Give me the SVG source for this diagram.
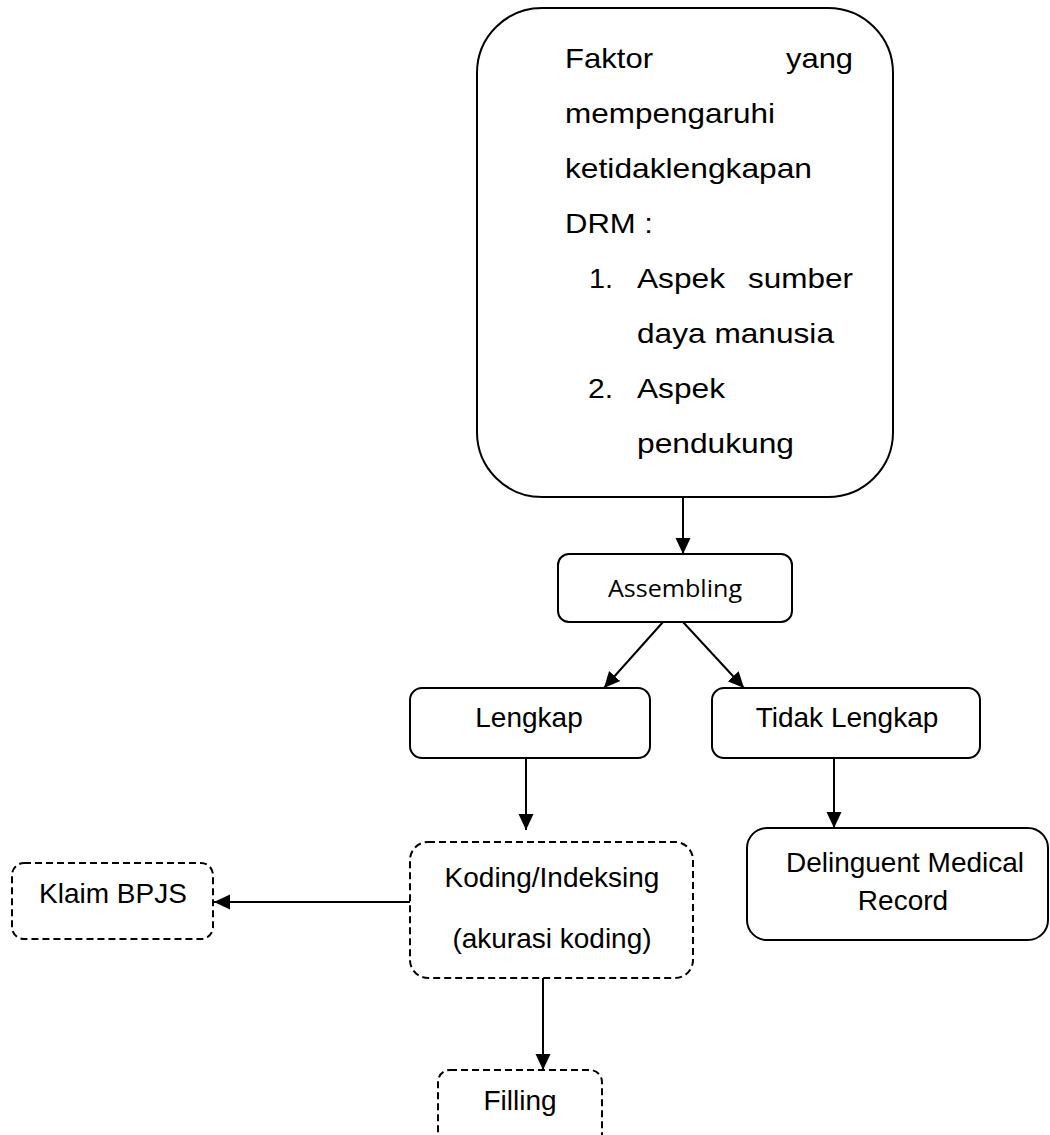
<svg xmlns="http://www.w3.org/2000/svg" width="1050" height="1135" viewBox="0 0 1050 1135">
<style>
.box{fill:#fff;stroke:#000;stroke-width:2}
.dash{fill:#fff;stroke:#000;stroke-width:2;stroke-dasharray:7 4}
.t{font-family:"Liberation Sans",Arial,sans-serif;font-size:28px;fill:#000}
.c{text-anchor:middle}
.e{text-anchor:end}
.cal{font-family:"Open Sans","Liberation Sans",sans-serif;font-size:24px;fill:#000;text-anchor:middle}
.conn{stroke:#000;stroke-width:2;fill:none;marker-end:url(#arr)}
</style>
<defs>
<marker id="arr" markerUnits="userSpaceOnUse" markerWidth="16" markerHeight="16" viewBox="0 0 16 16" refX="16" refY="8" orient="auto">
<path d="M0,0.5 L16,8 L0,15.5 Z" fill="#000"/>
</marker>
</defs>
<g id="connectors">
<line class="conn" x1="683" y1="497" x2="683" y2="554"/>
<line class="conn" x1="663" y1="622" x2="604" y2="688"/>
<line class="conn" x1="683" y1="622" x2="744" y2="688"/>
<line class="conn" x1="526" y1="758" x2="526" y2="830"/>
<line class="conn" x1="834" y1="758" x2="834" y2="828"/>
<line class="conn" x1="410" y1="902" x2="214" y2="902"/>
<line class="conn" x1="543" y1="978" x2="543" y2="1070"/>
</g>
<g id="faktor">
<rect class="box" x="477" y="8" width="416" height="489" rx="65" ry="65"/>
<text class="t" x="565" y="68" textLength="88" lengthAdjust="spacingAndGlyphs">Faktor</text>
<text class="t" x="786" y="68" textLength="67" lengthAdjust="spacingAndGlyphs">yang</text>
<text class="t" x="565" y="123" textLength="210" lengthAdjust="spacingAndGlyphs">mempengaruhi</text>
<text class="t" x="565" y="178" textLength="247" lengthAdjust="spacingAndGlyphs">ketidaklengkapan</text>
<text class="t" x="565" y="233" textLength="88" lengthAdjust="spacingAndGlyphs">DRM :</text>
<text class="t" x="589" y="288" textLength="24" lengthAdjust="spacingAndGlyphs">1.</text>
<text class="t" x="637" y="288" textLength="88" lengthAdjust="spacingAndGlyphs">Aspek</text>
<text class="t" x="748" y="288" textLength="105" lengthAdjust="spacingAndGlyphs">sumber</text>
<text class="t" x="637" y="343" textLength="197" lengthAdjust="spacingAndGlyphs">daya manusia</text>
<text class="t" x="588" y="398" textLength="25" lengthAdjust="spacingAndGlyphs">2.</text>
<text class="t" x="637" y="398" textLength="88" lengthAdjust="spacingAndGlyphs">Aspek</text>
<text class="t" x="637" y="453" textLength="157" lengthAdjust="spacingAndGlyphs">pendukung</text>
</g>
<g id="assembling">
<rect class="box" x="558" y="554" width="234" height="68" rx="11" ry="11"/>
<text class="cal" x="675" y="597" textLength="134" lengthAdjust="spacingAndGlyphs">Assembling</text>
</g>
<g id="lengkap">
<rect class="box" x="410" y="688" width="240" height="70" rx="12" ry="12"/>
<text class="t c" x="529" y="727">Lengkap</text>
</g>
<g id="tidak-lengkap">
<rect class="box" x="712" y="688" width="268" height="70" rx="12" ry="12"/>
<text class="t c" x="847" y="727">Tidak Lengkap</text>
</g>
<g id="koding">
<rect class="dash" x="410" y="842" width="283" height="136" rx="18" ry="18"/>
<text class="t c" x="552" y="887">Koding/Indeksing</text>
<text class="t c" x="552" y="948">(akurasi koding)</text>
</g>
<g id="delinguent">
<rect class="box" x="747" y="828" width="301" height="112" rx="20" ry="20"/>
<text class="t c" x="905" y="872">Delinguent Medical</text>
<text class="t c" x="903" y="910">Record</text>
</g>
<g id="klaim">
<rect class="dash" x="12" y="863" width="201" height="76" rx="12" ry="12"/>
<text class="t c" x="113" y="903">Klaim BPJS</text>
</g>
<g id="filling">
<rect class="dash" x="438" y="1070" width="164" height="90" rx="12" ry="12"/>
<text class="t c" x="520" y="1110">Filling</text>
</g>
</svg>
